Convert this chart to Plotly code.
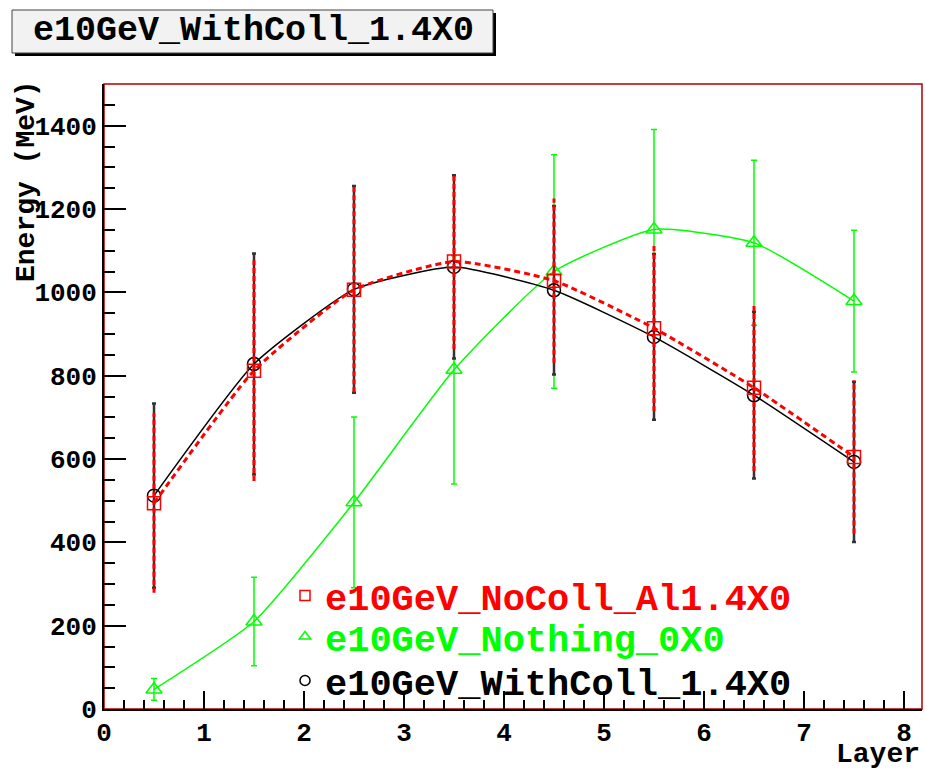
import plotly.graph_objects as go

layers = [0.5, 1.5, 2.5, 3.5, 4.5, 5.5, 6.5, 7.5]

nocoll_y = [494, 812, 1006, 1074, 1028, 914, 771, 605]
nocoll_err = [215, 265, 246, 210, 197, 199, 200, 184]

nothing_y = [47, 210, 496, 814, 1050, 1151, 1119, 979]
nothing_err = [26, 106, 205, 274, 280, 240, 198, 170]

withcoll_y = [512, 828, 1007, 1061, 1005, 893, 753, 593]
withcoll_err = [221, 265, 248, 220, 202, 199, 200, 192]

names = ["e10GeV_NoColl_Al1.4X0", "e10GeV_Nothing_0X0", "e10GeV_WithColl_1.4X0"]
title_text = "e10GeV_WithColl_1.4X0"
x_title = "Layer"
y_title = "Energy (MeV)"

RED = "#ff0000"
GREEN = "#00ff00"
BLACK = "#000000"
FONT = "Liberation Mono"

W, H = 925, 770
L, R, T, B = 104, 3, 84, 61
PW, PH = W - L - R, H - T - B


def px(xp):
    return (xp - L) / PW


def py(yp):
    return (H - B - yp) / PH


fig = go.Figure()

# green
fig.add_trace(go.Scatter(
    x=layers, y=nothing_y, mode="lines+markers", showlegend=False,
    line=dict(color=GREEN, width=1.5, shape="spline", smoothing=0.5),
    marker=dict(symbol="triangle-up-open", size=14, color=GREEN, line=dict(width=1.5, color=GREEN)),
    error_y=dict(type="data", array=nothing_err, color=GREEN, thickness=1.5, width=3),
))
# black
fig.add_trace(go.Scatter(
    x=layers, y=withcoll_y, mode="lines+markers", showlegend=False,
    line=dict(color=BLACK, width=1.5, shape="spline", smoothing=0.5),
    marker=dict(symbol="circle-open", size=13, color=BLACK, line=dict(width=1.5, color=BLACK)),
    error_y=dict(type="data", array=withcoll_err, color="#333333", thickness=2.5, width=2),
))
# red dashed error bars built from data
ex, ey = [], []
for xv, yv, ev in zip(layers, nocoll_y, nocoll_err):
    ex += [xv, xv, None]
    ey += [yv - ev, yv + ev, None]
fig.add_trace(go.Scatter(
    x=ex, y=ey, mode="lines", showlegend=False, hoverinfo="skip",
    line=dict(color=RED, width=3, dash="5px,3px"),
))
# red
fig.add_trace(go.Scatter(
    x=layers, y=nocoll_y, mode="lines+markers", showlegend=False,
    line=dict(color=RED, width=3, dash="6px,4px", shape="spline", smoothing=0.5),
    marker=dict(symbol="square-open", size=13, color=RED, line=dict(width=1.5, color=RED)),
))

# legend entries (marker only), one legend each
leg_specs = [
    (names[0], "square-open", RED, 596, "legend"),
    (names[1], "triangle-up-open", GREEN, 637, "legend2"),
    (names[2], "circle-open", BLACK, 681, "legend3"),
]
for nm, sym, col, ypix, lg in leg_specs:
    fig.add_trace(go.Scatter(
        x=[None], y=[None], mode="markers", name=nm, legend=lg,
        marker=dict(symbol=sym, size=10, color=col, line=dict(width=1.5, color=col)),
    ))

leg_common = dict(x=px(285), xanchor="left", yanchor="middle", bgcolor="rgba(0,0,0,0)",
                  borderwidth=0, itemsizing="trace")
layout_legends = {}
for nm, sym, col, ypix, lg in leg_specs:
    layout_legends[lg] = dict(leg_common, y=py(ypix),
                              font=dict(family=FONT, size=37, color=col, weight="bold"))

fig.update_layout(
    width=W, height=H,
    margin=dict(l=L, r=R, t=T, b=B, pad=0),
    paper_bgcolor="white", plot_bgcolor="white",
    showlegend=True,
    **layout_legends,
    xaxis=dict(
        range=[0, 8.18], dtick=1, tick0=0, showgrid=False, zeroline=False,
        showline=True, linecolor=BLACK, linewidth=2,
        ticks="inside", ticklen=18, tickwidth=1.5, tickcolor=BLACK,
        minor=dict(dtick=0.2, ticks="inside", ticklen=9, tickwidth=1.5, tickcolor=BLACK, showgrid=False),
        tickfont=dict(family=FONT, size=26, color=BLACK, weight="bold"),
        ticklabelstandoff=-1,
    ),
    yaxis=dict(
        range=[0, 1500], dtick=200, tick0=0, showgrid=False, zeroline=False,
        showline=True, linecolor=BLACK, linewidth=2,
        ticks="inside", ticklen=22, tickwidth=1.5, tickcolor=BLACK,
        minor=dict(dtick=50, ticks="inside", ticklen=11, tickwidth=1.5, tickcolor=BLACK, showgrid=False),
        tickfont=dict(family=FONT, size=26, color=BLACK, weight="bold"),
        ticklabelstandoff=0,
    ),
    shapes=[
        dict(type="rect", xref="paper", yref="paper", x0=0, x1=1, y0=0, y1=1,
             line=dict(color="#b00000", width=1.5), layer="below"),
        # title box shadow
        dict(type="rect", xref="paper", yref="paper",
             x0=px(15), x1=px(496), y0=py(56), y1=py(13),
             line=dict(width=0), fillcolor="#000000"),
        dict(type="rect", xref="paper", yref="paper",
             x0=px(12), x1=px(493), y0=py(53), y1=py(10),
             line=dict(width=1, color="#444444"), fillcolor="#f2f2f2"),
    ],
    annotations=[
        dict(text=title_text, xref="paper", yref="paper", x=px(253), y=py(31.5),
             xanchor="center", yanchor="middle", showarrow=False,
             font=dict(family=FONT, size=35, color=BLACK, weight="bold")),
        dict(text=x_title, xref="paper", yref="paper", x=px(922), y=py(755),
             xanchor="right", yanchor="middle", showarrow=False,
             font=dict(family=FONT, size=28, color=BLACK, weight="bold")),
        dict(text=y_title, xref="paper", yref="paper", x=px(27), y=py(78),
             xanchor="center", yanchor="top", showarrow=False, textangle=-90,
             font=dict(family=FONT, size=28, color=BLACK, weight="bold")),
    ],
)

fig.write_html("out.html", config={"displayModeBar": False},
               post_script="document.body.style.margin='0px';")
